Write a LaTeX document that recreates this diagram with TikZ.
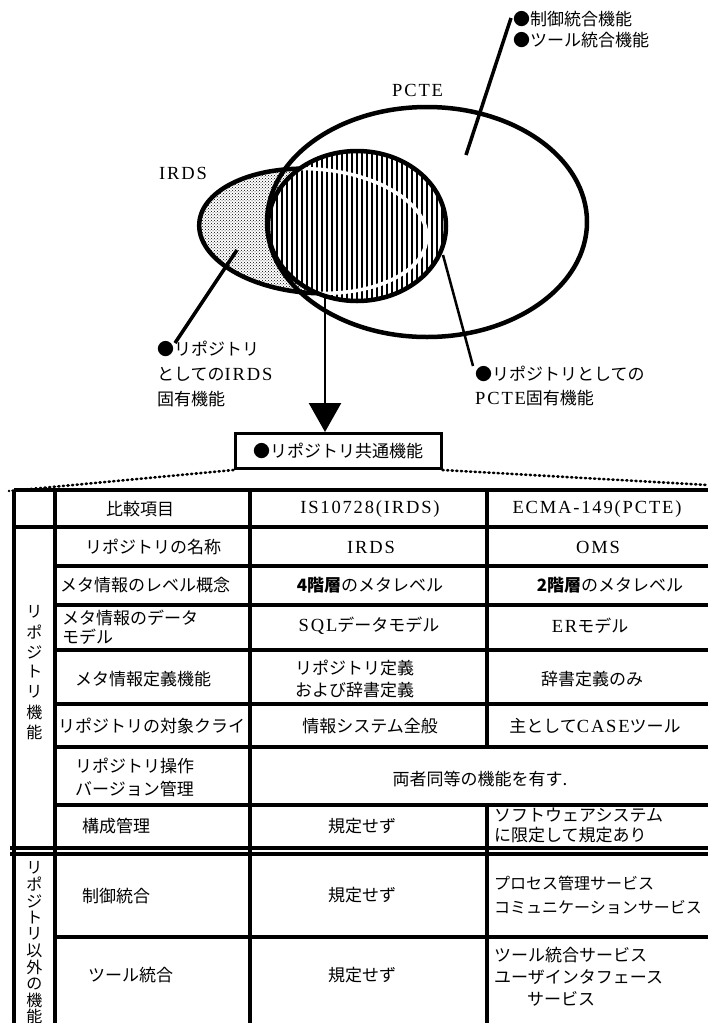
\documentclass[tikz,border=0pt]{standalone}
\usepackage{fontspec}
\setmainfont{Noto Sans CJK JP}
\newfontfamily\latn[LetterSpace=10]{Liberation Serif}
\newcommand\La[1]{{\latn\fontsize{18.5}{22}\selectfont #1}}
\usetikzlibrary{arrows.meta,patterns}
\begin{document}
\begin{tikzpicture}[x=1pt,y=-1pt,
  tx/.style={inner sep=0pt, font=\fontsize{17}{22}\selectfont},
  txl/.style={tx, anchor=west},
  txml/.style={tx, anchor=west, align=left},
  vch/.style={inner sep=0pt, font=\fontsize{16}{16}\selectfont},
  outline/.style={line width=4.5pt},
  tline/.style={line width=3.2pt},
  lead/.style={line width=3.5pt},
  dotline/.style={line width=2.6pt, line cap=round, dash pattern=on 1.2pt off 3.4pt}
]
\useasboundingbox (0,0) rectangle (708,1023);
% ---------- Venn part ----------
\fill[pattern=crosshatch dots, rotate around={-4:(313,231)}] (313,231) ellipse [x radius=114pt, y radius=62pt];
\draw[outline, rotate around={-4:(313,231)}] (313,231) ellipse [x radius=114pt, y radius=62pt];
\draw[outline] (427,222) ellipse [x radius=160pt, y radius=115pt];
\begin{scope}
  \clip (357,226) ellipse [x radius=89pt, y radius=75pt];
  \fill[white] (260,140) rectangle (460,310);
  \foreach \x in {267,272,...,450} \draw[line width=2.5pt] (\x,140) -- (\x,310);
  \draw[white, line width=3.5pt, rotate around={-4:(313,231)}] (313,231) ellipse [x radius=114pt, y radius=62pt];
\end{scope}
\draw[outline] (357,226) ellipse [x radius=89pt, y radius=75pt];

\node[txl] (pcteLbl) at (392,90) {\La{PCTE}};
\node[txl] (irdsLbl) at (159,173) {\La{IRDS}};
\node[txml, anchor=north west, font=\fontsize{17}{21}\selectfont] (ctl) at (513,11) {●制御統合機能\\●ツール統合機能};
\coordinate (ctlA) at (466,155);
\coordinate (ctlB) at (511,18);
\draw[lead] (ctlA) -- (ctlB);

\node[txml, anchor=north west, font=\fontsize{17}{25}\selectfont] (irdsU) at (157,341) {●リポジトリ\\としての\La{IRDS}\\固有機能};
\coordinate (irdsA) at (237,250);
\coordinate (irdsB) at (175,343);
\draw[lead] (irdsA) -- (irdsB);

\node[txml, anchor=north west, font=\fontsize{17}{24}\selectfont] (pcteU) at (475,366) {●リポジトリとしての\\\La{PCTE}固有機能};
\coordinate (pcteA) at (443,255);
\coordinate (pcteB) at (473,366);
\draw[line width=2.5pt] (pcteA) -- (pcteB);

\node[tx, draw, line width=3pt, minimum width=206pt, minimum height=35pt] (cbox) at (338,451) {●リポジトリ共通機能};
\coordinate (arrS) at (325,297);
\draw[line width=2.5pt, -{Triangle[length=29pt,width=32pt]}] (arrS) -- (arrS |- cbox.north);

\coordinate (dl) at (9,491);
\coordinate (dr) at (708,485);
\draw[dotline] (cbox.south west) -- (dl);
\draw[dotline] (cbox.south east) -- (dr);

% ---------- Table ----------
\draw[tline] (14,490) -- (708,490);
\draw[tline] (14,527) -- (708,527);
\foreach \y in {566,605,650,704,747,805} \draw[tline] (55,\y) -- (708,\y);
\draw[tline] (10,848) -- (708,848);
\draw[tline] (10,854) -- (708,854);
\draw[tline] (55,937) -- (708,937);
\draw[tline] (14,490) -- (14,1023);
\draw[tline] (55,490) -- (55,1023);
\draw[tline] (250,490) -- (250,1023);
\draw[tline] (487,490) -- (487,747);
\draw[tline] (487,805) -- (487,1023);

\node[tx] (hA) at (140,509) {比較項目};
\node[tx] (hB) at (370,509) {\La{IS10728(IRDS)}};
\node[tx] (hC) at (597,509) {\La{ECMA-149(PCTE)}};

\node[tx] (r1a) at (153,547) {リポジトリの名称};
\node[tx] (r1b) at (371,547) {\La{IRDS}};
\node[tx] (r1c) at (598,547) {\La{OMS}};

\node[txl] (r2a) at (60,585) {メタ情報のレベル概念};
\node[tx] (r2b) at (370,585) {{\bfseries 4階層}のメタレベル};
\node[tx] (r2c) at (610,585) {{\bfseries 2階層}のメタレベル};

\node[txml, font=\fontsize{17}{19}\selectfont] (r3a) at (62,627) {メタ情報のデータ\\モデル};
\node[tx] (r3b) at (369,626) {\La{SQL}データモデル};
\node[tx] (r3c) at (590,626) {\La{ER}モデル};

\node[tx] (r4a) at (143,679) {メタ情報定義機能};
\node[txml] (r4b) at (295,679) {リポジトリ定義\\および辞書定義};
\node[tx] (r4c) at (592,679) {辞書定義のみ};

\node[txl] (r5a) at (58,726) {リポジトリの対象クライ};
\node[tx] (r5b) at (370,726) {情報システム全般};
\node[tx] (r5c) at (595,726) {主として\La{CASE}ツール};

\node[txml, font=\fontsize{17}{23}\selectfont] (r6a) at (75,777) {リポジトリ操作\\バージョン管理};
\node[tx] (r6b) at (480,779) {両者同等の機能を有す.};

\node[txl] (r7a) at (82,826) {構成管理};
\node[tx] (r7b) at (362,826) {規定せず};
\node[txml, font=\fontsize{17}{20}\selectfont] (r7c) at (494,825) {ソフトウェアシステム\\に限定して規定あり};

\node[txl] (r8a) at (82,896) {制御統合};
\node[tx] (r8b) at (362,895) {規定せず};
\node[txml, font=\fontsize{16}{24}\selectfont] (r8c) at (494,895) {プロセス管理サービス\\コミュニケーションサービス};

\node[txl] (r9a) at (88,975) {ツール統合};
\node[tx] (r9b) at (362,975) {規定せず};
\node[txml, font=\fontsize{17}{22}\selectfont] (r9c) at (494,977) {ツール統合サービス\\ユーザインタフェース\\\hspace{33pt}サービス};

\foreach \c [count=\i] in {リ,ポ,ジ,ト,リ,機,能} \node[vch] (va\i) at (34.5,592+20*\i) {\c};
\foreach \c [count=\i] in {リ,ポ,ジ,ト,リ,以,外,の,機,能} \node[vch] (vb\i) at (34.5,851.5+16.5*\i) {\c};
\end{tikzpicture}
\end{document}
